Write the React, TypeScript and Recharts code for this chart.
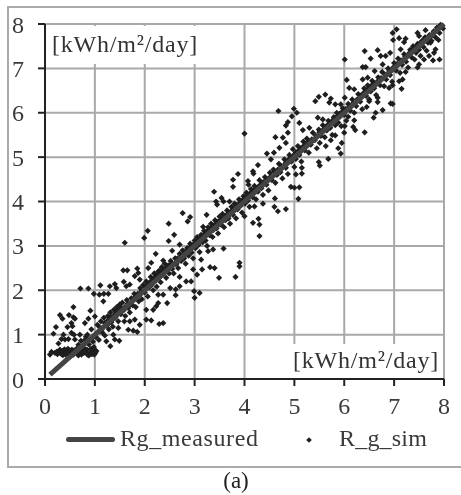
import React from 'react';
import { ScatterChart, Scatter, XAxis, YAxis, CartesianGrid } from 'recharts';

const axisTicks = [0, 1, 2, 3, 4, 5, 6, 7, 8];
const unitLabel = '[kWh/m²/day]';
const measuredName = 'Rg_measured';
const simName = 'R_g_sim';

const measured = [{ x: 0.1, y: 0.1 }, { x: 8, y: 8 }];

type Pair = [number, number];

// floor of the simulated values at low irradiance
const simFloor: Pair[] = [
  [0.1, 0.55], [0.13, 0.61], [0.2, 0.59], [0.25, 0.56], [0.29, 0.61], [0.33, 0.56], [0.37, 0.61], [0.41, 0.55],
  [0.45, 0.61], [0.49, 0.56], [0.53, 0.61], [0.57, 0.55], [0.62, 0.6], [0.67, 0.53], [0.73, 0.55], [0.78, 0.59],
  [0.85, 0.55], [0.9, 0.59], [0.97, 0.61], [1.01, 0.59], [1.0, 0.66], [0.4, 0.58], [0.52, 0.57], [0.6, 0.63],
  [0.24, 0.62], [0.31, 0.59], [0.36, 0.54], [0.44, 0.57], [0.47, 0.63], [0.55, 0.58], [0.65, 0.58], [0.7, 0.62],
  [0.75, 0.64], [0.81, 0.62], [0.88, 0.53], [0.94, 0.56], [0.99, 0.55], [1.03, 0.63],
  [0.3, 0.66], [0.39, 0.67], [0.46, 0.68], [0.54, 0.66], [0.63, 0.68], [0.72, 0.68], [0.84, 0.66], [0.92, 0.68],
  [0.98, 0.72], [0.35, 0.63], [0.5, 0.64], [0.58, 0.64],
];

// points standing clear of the band
const simLowOutliers: Pair[] = [
  [0.17, 1.02], [0.22, 1.17], [0.3, 1.44], [0.35, 1.36], [0.48, 1.44], [0.57, 1.62], [0.57, 1.39], [0.6, 1.36],
  [0.53, 1.26], [0.45, 1.17], [0.55, 1.19], [0.37, 1.0], [0.33, 0.9], [0.27, 0.8], [0.4, 0.89], [0.53, 1.04],
  [0.58, 1.0], [0.47, 0.9], [0.6, 0.89], [0.7, 1.0], [0.85, 1.0], [0.8, 1.26], [0.87, 1.36], [0.91, 1.54],
  [1.0, 1.41], [0.71, 2.04], [0.87, 2.04], [0.98, 1.92], [1.11, 2.11], [1.09, 1.9], [1.18, 1.92], [1.27, 1.92],
  [1.17, 1.75], [1.3, 2.09], [1.4, 2.14], [1.43, 2.05], [1.57, 2.45], [1.65, 2.45], [1.58, 2.19], [1.63, 2.09],
  [1.7, 2.13], [1.85, 2.49], [1.87, 2.39], [1.8, 2.32], [1.9, 2.24], [2.07, 2.5], [2.13, 2.62], [2.22, 2.82],
  [2.37, 2.67], [2.29, 2.44], [2.55, 2.89], [2.7, 3.03], [0.67, 0.77], [1.23, 0.85], [1.31, 0.74], [1.49, 0.86],
  [1.4, 0.89], [1.37, 1.0], [1.1, 1.07], [1.47, 1.15], [1.59, 1.3], [1.7, 1.3], [1.67, 1.11], [1.77, 1.09],
  [1.85, 1.06], [1.9, 1.22], [1.8, 1.34], [2.03, 1.34], [2.13, 1.32], [2.29, 1.24], [2.37, 1.26], [2.03, 1.56],
  [2.17, 1.56], [2.23, 1.64], [2.27, 1.71], [2.45, 1.71], [2.37, 1.9], [2.27, 1.9], [2.62, 1.89], [2.51, 2.05],
  [2.62, 2.02], [2.7, 2.09], [3.0, 1.83], [3.1, 1.94], [2.99, 1.98], [2.93, 2.2], [2.83, 2.2], [2.7, 2.3],
  [2.97, 2.47], [3.15, 2.47], [3.05, 2.35], [3.13, 2.69], [3.31, 2.52], [3.4, 2.5], [3.49, 2.28], [3.82, 2.3],
  [3.9, 2.62], [3.9, 2.54], [3.27, 2.88], [3.37, 2.92], [3.58, 2.94],
  [1.6, 3.07], [1.99, 3.18], [2.06, 3.34], [2.48, 3.5], [2.48, 3.11], [2.59, 3.25], [2.76, 3.74], [2.91, 3.65],
  [2.86, 3.55], [3.39, 4.22], [3.54, 4.08], [3.43, 4.0], [3.45, 3.93], [3.58, 4.0], [3.7, 4.0], [3.87, 4.62],
  [3.77, 4.49], [3.77, 4.33], [3.24, 3.7], [3.17, 3.43],
];

const simHighOutliers: Pair[] = [
  [4.3, 3.22], [4.17, 3.52], [4.28, 3.61], [4.3, 3.48], [4.0, 3.67], [4.67, 3.78], [4.83, 3.83], [4.6, 3.88],
  [5.08, 4.06], [4.61, 4.07], [4.37, 3.95], [4.2, 3.89], [4.93, 4.33], [5.0, 4.31], [5.1, 4.32], [5.03, 4.61],
  [5.15, 4.76], [5.15, 4.63], [5.49, 4.89], [5.51, 4.81], [5.68, 4.96], [5.93, 5.08], [5.88, 5.2], [5.95, 5.32],
  [5.82, 5.49], [5.73, 5.38], [5.63, 5.25], [5.51, 5.32], [6.0, 5.55], [6.01, 5.7], [6.41, 5.56], [6.22, 5.61],
  [6.18, 5.68], [6.2, 5.83], [6.08, 5.91], [6.59, 5.89], [6.63, 6.0], [6.77, 6.06], [6.45, 6.13], [6.67, 6.24],
  [6.67, 6.34], [6.5, 6.26], [6.93, 6.21], [6.97, 6.2], [6.9, 6.56], [6.97, 6.62], [7.15, 6.54], [7.1, 6.71],
  [7.17, 6.75], [7.23, 6.92], [7.47, 7.02], [7.5, 7.09], [7.6, 7.2], [7.78, 7.18], [7.91, 7.2], [7.7, 7.28],
  [7.8, 7.35], [7.89, 7.64], [7.73, 7.58], [7.83, 7.43],
  [4.18, 4.63], [4.07, 4.46], [4.08, 4.38], [4.17, 4.68], [4.27, 4.82], [4.0, 5.53], [4.45, 5.08], [4.59, 5.1],
  [4.62, 5.45], [4.77, 5.44], [4.7, 5.21], [4.53, 4.95], [4.68, 6.04], [4.83, 5.71], [4.87, 5.79], [4.95, 5.92],
  [4.99, 6.09], [5.05, 6.0], [5.1, 5.77], [4.87, 5.55], [4.83, 5.32], [5.03, 5.1], [5.42, 6.26], [5.49, 6.36],
  [5.62, 6.41], [5.73, 6.32], [5.7, 6.23], [5.82, 6.19], [5.93, 6.19], [6.01, 6.34], [5.47, 5.89], [5.57, 5.85],
  [5.3, 5.66], [5.17, 5.61], [6.05, 6.74], [6.1, 6.56], [6.2, 6.53], [6.01, 7.2], [6.41, 7.39], [6.53, 7.22],
  [6.37, 7.03], [6.43, 7.03], [6.67, 7.41], [6.73, 7.28], [6.83, 7.28], [6.92, 7.35], [6.77, 7.09], [6.97, 7.8],
  [7.05, 7.88], [6.98, 7.64], [7.1, 7.68], [7.23, 7.67], [7.2, 7.59], [7.13, 7.43], [7.47, 7.8], [7.5, 7.73],
  [7.63, 7.86], [6.61, 6.94], [6.37, 6.75], [6.47, 6.79],
];

// the band either side of the measured line
const simBandLow: Pair[] = [
  [0.72, 0.86], [0.78, 0.7], [0.82, 0.95], [0.88, 0.78], [0.93, 1.12], [0.96, 0.84], [1.02, 0.95], [1.05, 1.22],
  [1.08, 0.88], [1.12, 1.3], [1.15, 1.05], [1.18, 1.38], [1.2, 0.98], [1.23, 1.2], [1.26, 1.42], [1.28, 1.12],
  [1.31, 1.5], [1.33, 1.28], [1.36, 1.18], [1.38, 1.56], [1.41, 1.38], [1.44, 1.62], [1.47, 1.3], [1.5, 1.68],
  [1.52, 1.46], [1.55, 1.72], [1.58, 1.55], [1.61, 1.42], [1.64, 1.78], [1.67, 1.6], [1.7, 1.5], [1.73, 1.82],
  [1.76, 1.66], [1.79, 1.92], [1.82, 1.62], [1.85, 1.88], [1.88, 1.75], [1.91, 2.05], [1.94, 1.8], [1.97, 2.12],
  [2.0, 1.95], [2.03, 2.2], [2.06, 1.86], [2.09, 2.06], [2.12, 2.3], [2.14, 2.12], [2.17, 2.0], [2.19, 2.38],
  [2.22, 2.22], [2.24, 2.08], [2.27, 2.42], [2.29, 2.28], [2.32, 2.18], [2.34, 2.52], [2.37, 2.36], [2.4, 2.6],
  [2.43, 2.28], [2.46, 2.5], [2.49, 2.38], [2.52, 2.66], [2.55, 2.48], [2.58, 2.38], [2.61, 2.72], [2.64, 2.6],
  [2.67, 2.5], [2.7, 2.82], [2.73, 2.66], [2.76, 2.9], [2.79, 2.72], [2.82, 2.6], [2.85, 2.95], [2.88, 2.78],
  [2.91, 3.05], [2.94, 2.85], [2.97, 2.72], [3.0, 3.12], [3.02, 2.95], [3.05, 3.2], [3.08, 3.02], [3.1, 2.86],
  [3.13, 3.25], [3.16, 3.08], [3.19, 3.34], [3.22, 3.12], [3.25, 3.0], [3.27, 3.42], [3.3, 3.24], [3.33, 3.5],
  [3.36, 3.2], [3.38, 3.36], [3.41, 3.58], [3.44, 3.4], [3.47, 3.28], [3.5, 3.66], [3.53, 3.48], [3.56, 3.72],
  [3.59, 3.42], [3.62, 3.58], [3.65, 3.8], [3.68, 3.62], [3.71, 3.5], [3.74, 3.88], [3.77, 3.7], [3.8, 3.95],
  [3.83, 3.62], [3.86, 3.82], [3.89, 4.05], [3.92, 3.9], [3.95, 3.75], [3.98, 4.12],
];

const simBandHigh: Pair[] = [
  [4.01, 3.95], [4.04, 4.2], [4.07, 4.02], [4.1, 3.88], [4.13, 4.28], [4.16, 4.1], [4.2, 4.35], [4.23, 4.05],
  [4.27, 4.22], [4.3, 4.48], [4.34, 4.3], [4.37, 4.15], [4.41, 4.55], [4.44, 4.38], [4.48, 4.25], [4.51, 4.65],
  [4.55, 4.48], [4.58, 4.72], [4.62, 4.42], [4.65, 4.6], [4.69, 4.85], [4.72, 4.66], [4.76, 4.52], [4.8, 4.95],
  [4.83, 4.76], [4.87, 4.62], [4.9, 5.05], [4.94, 4.9], [4.97, 5.18], [5.0, 4.78], [5.03, 4.96], [5.07, 5.25],
  [5.1, 5.05], [5.14, 4.9], [5.18, 5.35], [5.21, 5.15], [5.25, 5.42], [5.29, 5.1], [5.33, 5.28], [5.37, 5.55],
  [5.41, 5.38], [5.45, 5.2], [5.49, 5.62], [5.53, 5.48], [5.57, 5.72], [5.61, 5.45], [5.65, 5.6], [5.68, 5.82],
  [5.72, 5.66], [5.76, 5.5], [5.79, 5.9], [5.82, 5.72], [5.85, 6.0], [5.88, 5.78], [5.91, 5.92], [5.94, 5.7],
  [5.97, 6.1], [6.0, 5.95], [6.04, 5.82], [6.08, 6.2], [6.12, 6.05], [6.16, 6.3], [6.2, 6.0], [6.24, 6.15],
  [6.28, 6.42], [6.32, 6.25], [6.36, 6.08], [6.4, 6.55], [6.44, 6.38], [6.47, 6.62], [6.5, 6.3], [6.53, 6.48],
  [6.56, 6.72], [6.6, 6.55], [6.64, 6.4], [6.68, 6.8], [6.72, 6.62], [6.76, 6.92], [6.8, 6.6], [6.84, 6.75],
  [6.88, 7.0], [6.92, 6.85], [6.96, 6.7], [7.0, 7.12], [7.04, 6.95], [7.08, 7.22], [7.12, 6.9], [7.16, 7.08],
  [7.2, 7.32], [7.24, 7.15], [7.28, 7.02], [7.32, 7.42], [7.35, 7.25], [7.38, 7.5], [7.41, 7.2], [7.44, 7.35],
  [7.47, 7.55], [7.5, 7.42], [7.53, 7.28], [7.56, 7.62], [7.59, 7.48], [7.62, 7.7], [7.65, 7.4], [7.68, 7.58],
  [7.71, 7.75], [7.75, 7.62], [7.79, 7.82], [7.83, 7.7], [7.87, 7.88], [7.91, 7.8], [7.95, 7.96], [7.98, 7.9],
];

// the black clumps right on the line, thickest around 1.3, 2.3, 3.3, 4.1, 5.2, 5.9, 6.5 and 7.5
const simCore: Pair[] = [
  [0.8, 0.88], [0.95, 0.93], [1.1, 1.16], [1.14, 1.12], [1.2, 1.26], [1.24, 1.3], [1.27, 1.24], [1.3, 1.36],
  [1.32, 1.4], [1.35, 1.33], [1.39, 1.44], [1.42, 1.47], [1.46, 1.52], [1.49, 1.55], [1.53, 1.6], [1.6, 1.62],
  [1.66, 1.7], [1.72, 1.68], [1.78, 1.82], [1.86, 1.92], [1.93, 1.98], [2.0, 2.08], [2.05, 2.12], [2.1, 2.18],
  [2.13, 2.2], [2.16, 2.24], [2.2, 2.28], [2.23, 2.32], [2.26, 2.34], [2.28, 2.36], [2.31, 2.4], [2.33, 2.42],
  [2.36, 2.46], [2.39, 2.44], [2.42, 2.5], [2.47, 2.56], [2.54, 2.6], [2.6, 2.58], [2.66, 2.72], [2.74, 2.78],
  [2.8, 2.86], [2.86, 2.9], [2.9, 2.96], [2.96, 3.02], [3.0, 3.04], [3.04, 3.1], [3.07, 3.14], [3.11, 3.18],
  [3.15, 3.2], [3.18, 3.24], [3.21, 3.28], [3.24, 3.32], [3.28, 3.34], [3.31, 3.38], [3.34, 3.42], [3.37, 3.46],
  [3.4, 3.44], [3.43, 3.5], [3.46, 3.54], [3.5, 3.56], [3.55, 3.6], [3.61, 3.68], [3.67, 3.72], [3.73, 3.78],
  [3.78, 3.84], [3.84, 3.92], [3.9, 3.96], [3.94, 4.0], [3.97, 4.04], [4.0, 4.06], [4.03, 4.1], [4.06, 4.12],
  [4.09, 4.16], [4.12, 4.18], [4.15, 4.22], [4.18, 4.24], [4.22, 4.26], [4.26, 4.32], [4.32, 4.38], [4.38, 4.44],
  [4.45, 4.5], [4.52, 4.56], [4.6, 4.66], [4.67, 4.72], [4.74, 4.8], [4.82, 4.86], [4.88, 4.94], [4.93, 4.98],
  [4.98, 5.03], [5.02, 5.08], [5.06, 5.12], [5.1, 5.16], [5.13, 5.2], [5.16, 5.22], [5.2, 5.26], [5.24, 5.28],
  [5.28, 5.34], [5.35, 5.4], [5.43, 5.48], [5.5, 5.56], [5.58, 5.62], [5.64, 5.7], [5.7, 5.76], [5.75, 5.8],
  [5.78, 5.84], [5.82, 5.88], [5.85, 5.9], [5.88, 5.94], [5.91, 5.98], [5.94, 6.0], [5.98, 6.04], [6.03, 6.08],
  [6.1, 6.14], [6.18, 6.22], [6.26, 6.3], [6.34, 6.4], [6.4, 6.46], [6.44, 6.5], [6.48, 6.54], [6.52, 6.58],
  [6.55, 6.62], [6.6, 6.66], [6.66, 6.7], [6.74, 6.78], [6.82, 6.86], [6.9, 6.94], [6.98, 7.02], [7.06, 7.1],
  [7.14, 7.18], [7.22, 7.26], [7.3, 7.34], [7.36, 7.42], [7.4, 7.46], [7.43, 7.48], [7.46, 7.5], [7.49, 7.54],
  [7.52, 7.56], [7.55, 7.58], [7.58, 7.63], [7.64, 7.68], [7.72, 7.7], [7.8, 7.84], [7.86, 7.92], [7.93, 7.98],
];

const simulated = [...simFloor, ...simLowOutliers, ...simHighOutliers, ...simBandLow, ...simBandHigh, ...simCore].map(([x, y]) => ({ x, y }));

const serif = '"Liberation Serif", "Times New Roman", serif';
const tickStyle = { fontFamily: serif, fontSize: 24, fill: '#3a3a3a' };

function Dot(props: any) {
  const { cx, cy } = props;
  return <path d={`M${cx} ${cy - 3.1}L${cx + 3.1} ${cy}L${cx} ${cy + 3.1}L${cx - 3.1} ${cy}Z`} fill="#1e1e1e" />;
}

const unitBox: React.CSSProperties = {
  position: 'absolute',
  background: '#fff',
  fontFamily: serif,
  fontSize: 24,
  color: '#333',
  whiteSpace: 'nowrap',
  letterSpacing: 0.8,
};

const legendText: React.CSSProperties = {
  position: 'absolute',
  fontFamily: serif,
  fontSize: 24,
  color: '#3a3a3a',
  whiteSpace: 'nowrap',
  letterSpacing: 0.6,
};

export default function App() {
  return (
    <div style={{ position: 'absolute', left: 0, top: 0, width: 461, height: 495, overflow: 'hidden', background: '#fff', filter: 'blur(0.4px)' }}>
      {/* outer chart frame, runs off the right edge */}
      <div style={{ position: 'absolute', left: 7, top: 6, width: 470, height: 458, border: '2px solid #aaa' }} />

      <div style={{ position: 'absolute', left: 0, top: 0 }}>
        <ScatterChart width={461} height={495} margin={{ top: 24, right: 17, bottom: 76, left: 5 }}>
          <CartesianGrid stroke="#a9a9a9" strokeWidth={2} />
          <XAxis
            type="number"
            dataKey="x"
            domain={[0, 8]}
            ticks={axisTicks}
            interval={0}
            height={40}
            tick={tickStyle}
            tickSize={7}
            tickMargin={11}
            stroke="#222"
            strokeWidth={2}
          />
          <YAxis
            type="number"
            dataKey="y"
            domain={[0, 8]}
            ticks={axisTicks}
            interval={0}
            width={40}
            tick={tickStyle}
            tickSize={7}
            tickMargin={14}
            stroke="#222"
            strokeWidth={2}
          />
          <Scatter name={simName} data={simulated} shape={Dot} isAnimationActive={false} />
          <Scatter
            name={measuredName}
            data={measured}
            line={{ stroke: '#444', strokeWidth: 5 }}
            shape={() => <g />}
            isAnimationActive={false}
          />
        </ScatterChart>
      </div>

      <div style={{ ...unitBox, left: 47, top: 26, width: 152, height: 38, paddingLeft: 5, lineHeight: '36px', boxSizing: 'border-box' }}>{unitLabel}</div>
      <div style={{ ...unitBox, left: 291, top: 344, width: 150, height: 34, lineHeight: '33px', textAlign: 'right', paddingRight: 2, boxSizing: 'border-box' }}>{unitLabel}</div>

      {/* legend */}
      <div style={{ position: 'absolute', left: 66, top: 437, width: 49, height: 5, borderRadius: 3, background: '#444' }} />
      <div style={{ ...legendText, left: 120, top: 425 }}>{measuredName}</div>
      <div style={{ position: 'absolute', left: 307, top: 438, width: 4, height: 4, background: '#222', transform: 'rotate(45deg)' }} />
      <div style={{ ...legendText, left: 339, top: 425, letterSpacing: 0.2 }}>{simName}</div>

      <div style={{ position: 'absolute', left: 0, width: 461, top: 468, paddingLeft: 11, boxSizing: 'border-box', textAlign: 'center', fontFamily: serif, fontSize: 23, color: '#222' }}>(a)</div>
    </div>
  );
}
